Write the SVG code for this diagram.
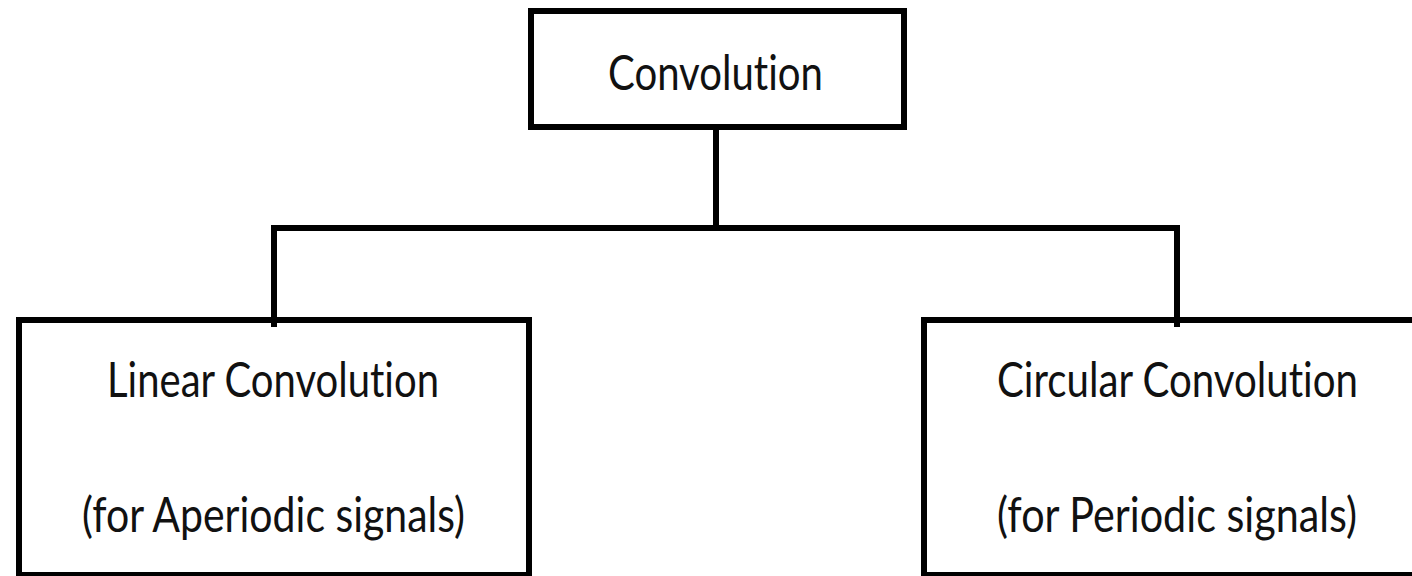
<svg xmlns="http://www.w3.org/2000/svg" width="1412" height="576" viewBox="0 0 1412 576">
<style>
.box{fill:#fff;stroke:#000;stroke-width:6}
.con{fill:none;stroke:#000;stroke-width:6;stroke-linecap:butt}
.t{font-family:Lato,"Open Sans","Liberation Sans",sans-serif;font-size:48px;fill:#111;text-anchor:middle;font-variant-ligatures:none;font-feature-settings:"liga" 0}
</style>
<rect width="1412" height="576" fill="#fff"/>
<g id="connectors">
<path class="con" d="M716,127 V228"/>
<path class="con" d="M271,228 H1180"/>
<path class="con" d="M274,228 V327"/>
<path class="con" d="M1177,228 V327"/>
</g>
<g id="node-convolution">
<rect class="box" x="531" y="11" width="373" height="116"/>
<text class="t" x="715.5" y="90" textLength="215" lengthAdjust="spacingAndGlyphs">Convolution</text>
</g>
<g id="node-linear">
<rect class="box" x="19" y="320" width="510" height="255" fill-opacity="0"/>
<text class="t" x="273" y="397" textLength="332" lengthAdjust="spacingAndGlyphs">Linear Convolution</text>
<text class="t" x="273.5" y="532" textLength="383" lengthAdjust="spacingAndGlyphs">(for Aperiodic signals)</text>
</g>
<g id="node-circular">
<path class="box" fill-opacity="0" d="M1412,320 H924 V575 H1412"/>
<text class="t" x="1177.5" y="397" textLength="361" lengthAdjust="spacingAndGlyphs">Circular Convolution</text>
<text class="t" x="1177" y="532" textLength="360" lengthAdjust="spacingAndGlyphs">(for Periodic signals)</text>
</g>
<path class="con" d="M274,317 V327"/>
<path class="con" d="M1177,317 V327"/>
</svg>
